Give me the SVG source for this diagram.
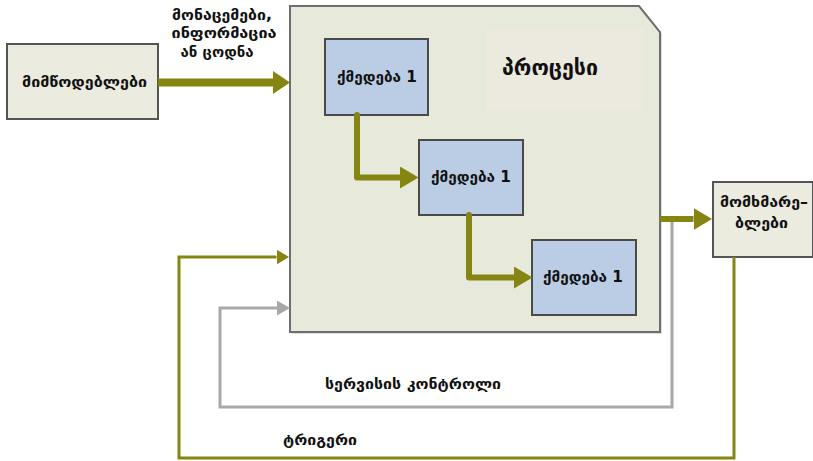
<svg xmlns="http://www.w3.org/2000/svg" width="813" height="461" viewBox="0 0 813 461">
  <style>
    .lbl { font-family: "DejaVu Sans", "Noto Sans", sans-serif; font-weight: bold; fill: #111; text-anchor: middle; font-size: 15px; }
    .box { fill: #ecebe0; stroke: #555; stroke-width: 2; }
    .act { fill: #bacde5; stroke: #4a4a4a; stroke-width: 2; }
    .olive { fill: none; stroke: #858512; }
    .grey { fill: none; stroke: #a8a8a8; stroke-width: 3; }
  </style>
  <defs>
    <marker id="headBig" markerUnits="userSpaceOnUse" markerWidth="18" markerHeight="24" refX="0" refY="11.5" orient="auto">
      <path d="M0,0 L17,11.5 L0,23 Z" fill="#858512"/>
    </marker>
    <marker id="headMid" markerUnits="userSpaceOnUse" markerWidth="20" markerHeight="24" refX="0" refY="11" orient="auto">
      <path d="M0,0 L18.5,11 L0,22 Z" fill="#858512"/>
    </marker>
    <marker id="headSmall" markerUnits="userSpaceOnUse" markerWidth="14" markerHeight="16" refX="0" refY="7.5" orient="auto">
      <path d="M0,0 L12.5,7.5 L0,15 Z" fill="#858512"/>
    </marker>
    <marker id="headGrey" markerUnits="userSpaceOnUse" markerWidth="14" markerHeight="16" refX="0" refY="7.5" orient="auto">
      <path d="M0,0 L13,7.5 L0,15 Z" fill="#a8a8a8"/>
    </marker>
  </defs>
  <rect width="813" height="461" fill="#fff"/>

  <!-- process container -->
  <g id="process">
    <path d="M292,8 H641 L662,34 V334 H292 Z" fill="#bbb" opacity="0.5"/>
    <path d="M290,6 H639 L660,32 V332 H290 Z" fill="#e7e9db" stroke="#6e6e6e" stroke-width="2"/>
    <rect x="486" y="28" width="158" height="82" fill="#ece9df"/>
    <text class="lbl" x="550" y="75" style="font-size:22px" textLength="96" lengthAdjust="spacingAndGlyphs">პროცესი</text>
  </g>

  <g id="suppliers">
    <rect class="box" x="7" y="44" width="151" height="75"/>
    <text class="lbl" x="84.5" y="87" textLength="125" lengthAdjust="spacingAndGlyphs">მიმწოდებლები</text>
  </g>

  <g id="consumers">
    <rect class="box" x="713" y="182" width="100" height="75"/>
    <text class="lbl" x="764" y="207" textLength="88" lengthAdjust="spacingAndGlyphs">მომხმარე–</text>
    <text class="lbl" x="761.5" y="228" textLength="53" lengthAdjust="spacingAndGlyphs">ბლები</text>
  </g>

  <g id="action-a">
    <rect class="act" x="325" y="39" width="103" height="76"/>
    <text class="lbl" x="377" y="82" textLength="80" lengthAdjust="spacingAndGlyphs">ქმედება 1</text>
  </g>
  <g id="action-b">
    <rect class="act" x="419" y="140" width="104" height="75"/>
    <text class="lbl" x="471" y="182" textLength="80" lengthAdjust="spacingAndGlyphs">ქმედება 1</text>
  </g>
  <g id="action-c">
    <rect class="act" x="532" y="240" width="104" height="75"/>
    <text class="lbl" x="583" y="282" textLength="80" lengthAdjust="spacingAndGlyphs">ქმედება 1</text>
  </g>

  <!-- connectors -->
  <g id="connectors">
    <path class="olive" d="M158,82.5 H273" stroke-width="8" marker-end="url(#headBig)"/>
    <path class="olive" d="M357,115 V177.5 H400" stroke-width="6" stroke-linejoin="round" stroke-linecap="round" marker-end="url(#headMid)"/>
    <path class="olive" d="M469,215 V277.5 H514" stroke-width="6" stroke-linejoin="round" stroke-linecap="round" marker-end="url(#headMid)"/>
    <path class="grey" d="M672,219 V407 H220 V308 H277" marker-end="url(#headGrey)"/>
    <path class="olive" d="M660,219 H693.5" stroke-width="6" marker-end="url(#headMid)"/>
    <path class="olive" d="M734,257 V458 H179 V257 H276.5" stroke-width="3" marker-end="url(#headSmall)"/>
  </g>

  <!-- connector labels -->
  <g id="labels">
    <text class="lbl" x="222" y="20" textLength="100" lengthAdjust="spacingAndGlyphs">მონაცემები,</text>
    <text class="lbl" x="224" y="38" textLength="105" lengthAdjust="spacingAndGlyphs">ინფორმაცია</text>
    <text class="lbl" x="217" y="57" textLength="73" lengthAdjust="spacingAndGlyphs">ან ცოდნა</text>
    <text class="lbl" x="413" y="389" textLength="176" lengthAdjust="spacingAndGlyphs">სერვისის კონტროლი</text>
    <text class="lbl" x="320" y="445" textLength="74" lengthAdjust="spacingAndGlyphs">ტრიგერი</text>
  </g>
</svg>
